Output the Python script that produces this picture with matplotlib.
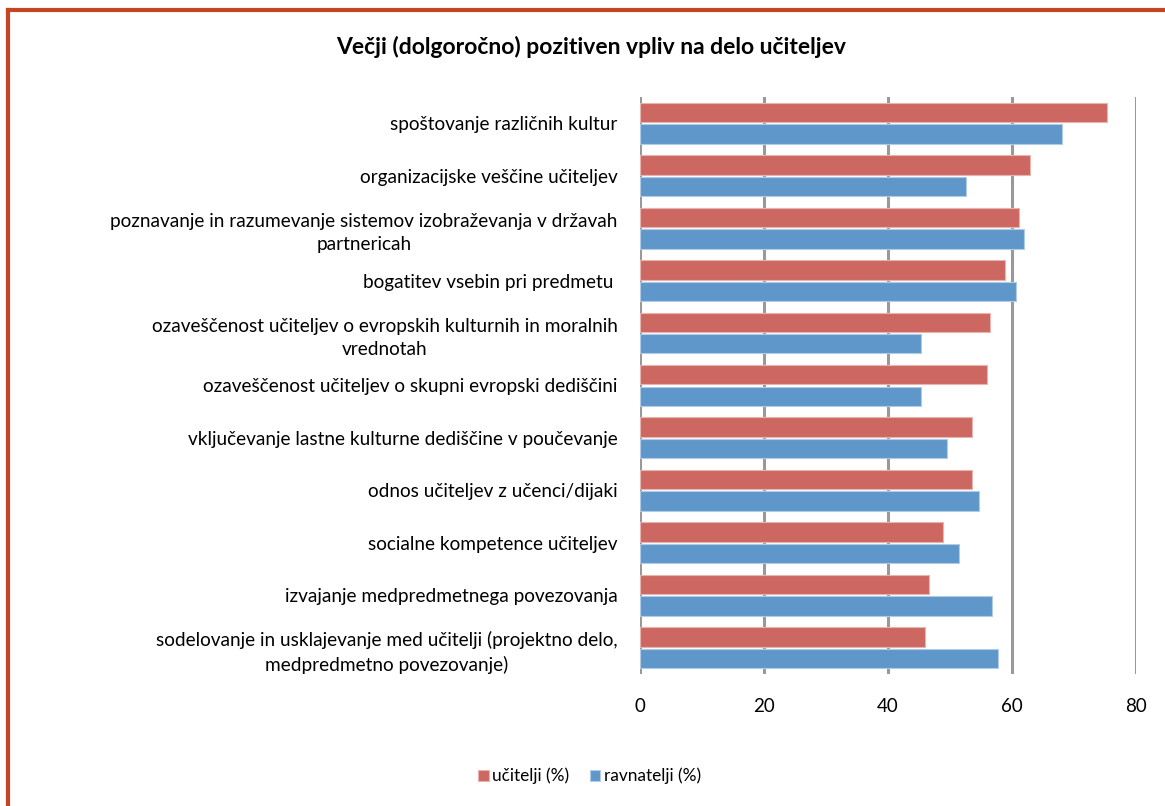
import matplotlib.pyplot as plt
import numpy as np

# categories, top to bottom as in the chart
categories = [
    "spoštovanje različnih kultur",
    "organizacijske veščine učiteljev",
    "poznavanje in razumevanje sistemov izobraževanja v državah\npartnericah",
    "bogatitev vsebin pri predmetu ",
    "ozaveščenost učiteljev o evropskih kulturnih in moralnih\nvrednotah",
    "ozaveščenost učiteljev o skupni evropski dediščini",
    "vključevanje lastne kulturne dediščine v poučevanje",
    "odnos učiteljev z učenci/dijaki",
    "socialne kompetence učiteljev",
    "izvajanje medpredmetnega povezovanja",
    "sodelovanje in usklajevanje med učitelji (projektno delo,\nmedpredmetno povezovanje)",
]
ucitelji = [75.3, 62.9, 61.1, 58.8, 56.5, 55.9, 53.5, 53.5, 48.8, 46.6, 45.9]
ravnatelji = [68.1, 52.6, 61.9, 60.7, 45.4, 45.4, 49.5, 54.6, 51.5, 56.7, 57.7]
xticks = [0, 20, 40, 60, 80]

plt.rcParams['font.family'] = ['Lato', 'DejaVu Sans']

fig = plt.figure(figsize=(11.65, 8.06), dpi=100)
ax = fig.add_axes([0.5494, 0.1638, 0.4257, 0.7159])

y = np.arange(len(categories))
h = 0.37
red = '#cd6761'
blue = '#6097ca'
ax.barh(y - h / 2 - 0.02, ucitelji, height=h, color=red, edgecolor='#e8b4b0', linewidth=0.8,
        label='učitelji (%)', zorder=3)
ax.barh(y + h / 2 + 0.02, ravnatelji, height=h, color=blue, edgecolor='#b0cbe6', linewidth=0.8,
        label='ravnatelji (%)', zorder=3)

ax.set_ylim(len(categories) - 0.5, -0.5)
ax.set_xlim(0, 80)
ax.set_xticks(xticks)
ax.set_yticks(y)
ax.set_yticklabels(categories, fontsize=13.7)
for lbl in ax.get_yticklabels():
    lbl.set_multialignment('center')
    lbl.set_linespacing(1.45)
ax.tick_params(axis='y', length=0, pad=16)
ax.tick_params(axis='x', length=0, pad=17, labelsize=13.5)
for s in ax.spines.values():
    s.set_visible(False)
ax.grid(axis='x', color='#999999', linewidth=2.2, zorder=0)
ax.set_axisbelow(True)

fig.text(0.507, 0.942, "Večji (dolgoročno) pozitiven vpliv na delo učiteljev",
         ha='center', va='center', fontsize=16.5, fontweight='bold')

handles, labels = ax.get_legend_handles_labels()
fig.legend(handles, labels, loc='center', bbox_to_anchor=(0.506, 0.037), ncol=2,
           frameon=False, fontsize=12.4, handlelength=0.6, handleheight=0.6,
           handletextpad=0.2, columnspacing=1.2)

# frame of the chart area (only top and left edges are visible in the picture)
border = '#c4451f'
fig.add_artist(plt.Line2D([0.0065, 1.0], [0.988, 0.988], color=border, linewidth=3,
                          transform=fig.transFigure))
fig.add_artist(plt.Line2D([0.0065, 0.0065], [0.0, 0.988], color=border, linewidth=3,
                          transform=fig.transFigure))

fig.savefig('out.png', dpi=100)
